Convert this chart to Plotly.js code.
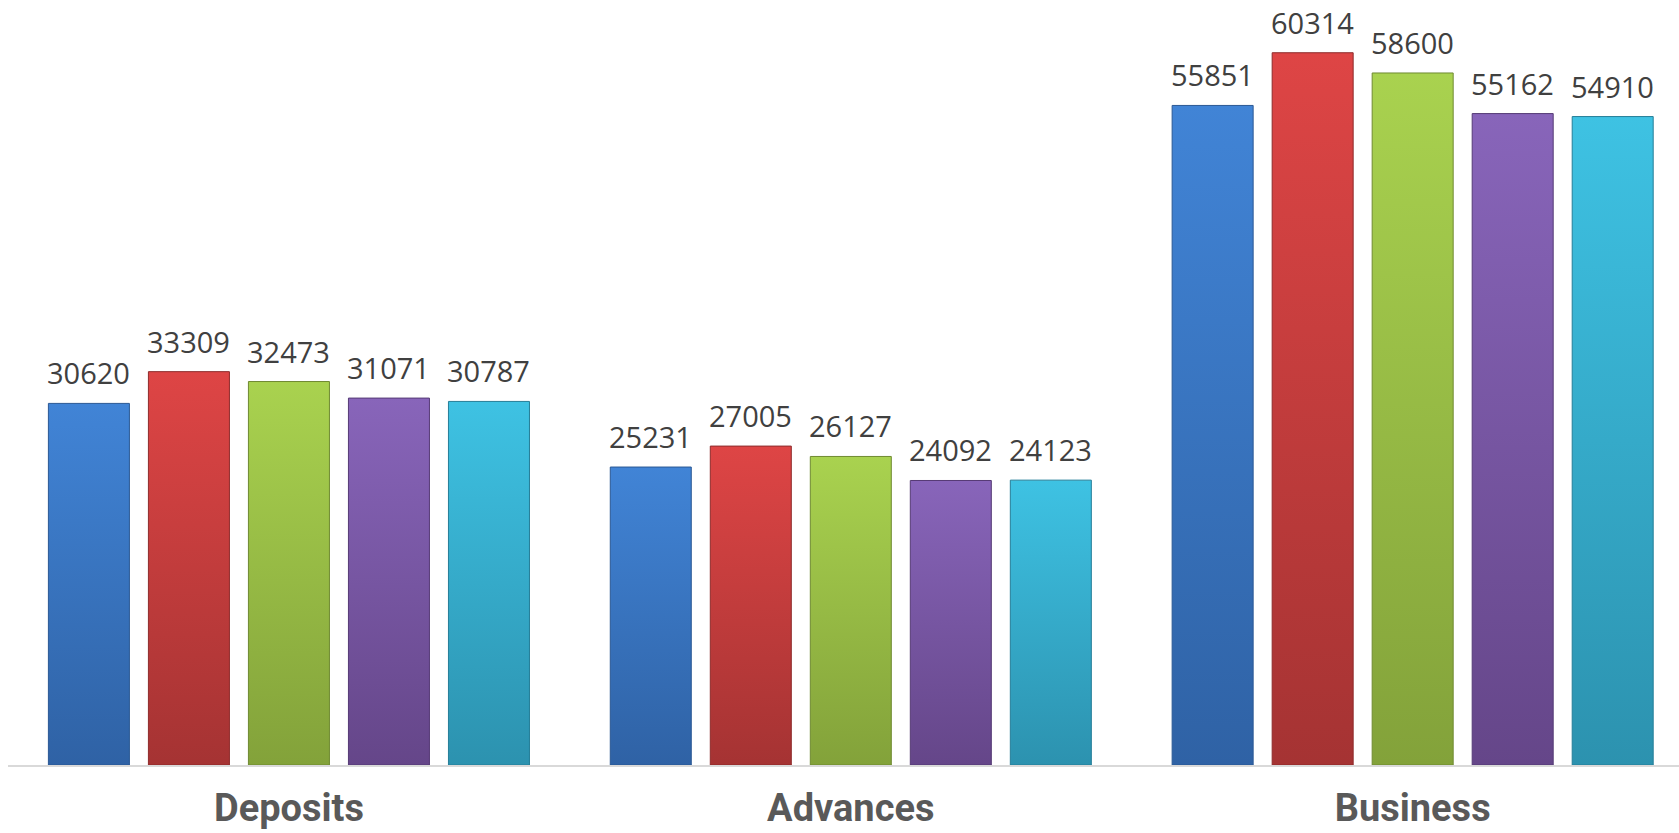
<!DOCTYPE html>
<html>
<head>
<meta charset="utf-8">
<script src="https://cdn.plot.ly/plotly-3.0.1.min.js"></script>
<style>
  html, body { margin: 0; padding: 0; background: #ffffff; }
  #chart { width: 1679px; height: 833px; }
</style>
</head>
<body>
<div id="chart"></div>
<script>
const categories = ['Deposits', 'Advances', 'Business'];
const series1 = [30620, 25231, 55851];
const series2 = [33309, 27005, 60314];
const series3 = [32473, 26127, 58600];
const series4 = [31071, 24092, 55162];
const series5 = [30787, 24123, 54910];
const seriesNames = ['Series 1', 'Series 2', 'Series 3', 'Series 4', 'Series 5'];
const seriesValues = [series1, series2, series3, series4, series5];

const baseColors = ['#3A74C0', '#CC3C3C', '#9BC145', '#7A58A8', '#36AFCE'];
const topColors = ['#4184D6', '#DE4545', '#A9D24F', '#8865BA', '#3EC2E3'];
const bottomColors = ['#2F62A5', '#A53333', '#83A23A', '#654689', '#2C92AF'];
const edgeColors = ['#2A5894', '#8E2B2B', '#6F8A31', '#553A75', '#257E98'];

const BARGAP = 0.11;
const BARGROUPGAP = 0.19;

const traces = seriesValues.map((vals, i) => ({
  type: 'bar',
  name: seriesNames[i],
  x: categories,
  y: vals,
  marker: { color: baseColors[i], line: { color: edgeColors[i], width: 1 } },
  hoverinfo: 'x+y'
}));

// value labels placed above each bar, at the bar's slot within its group
const nSeries = seriesValues.length;
const slot = (1 - BARGAP) / nSeries;
const annotations = [];
seriesValues.forEach((vals, i) => {
  vals.forEach((v, c) => {
    annotations.push({
      xref: 'x', yref: 'y',
      x: c + (i - (nSeries - 1) / 2) * slot,
      y: v,
      text: String(v),
      showarrow: false,
      xanchor: 'center',
      yanchor: 'bottom',
      yshift: 9,
      font: { family: 'Open Sans', size: 29, color: '#404040' }
    });
  });
});

const layout = {
  width: 1679,
  height: 833,
  margin: { l: 8, r: 0, t: 0, b: 68 },
  paper_bgcolor: '#ffffff',
  plot_bgcolor: '#ffffff',
  showlegend: false,
  barmode: 'group',
  bargap: BARGAP,
  bargroupgap: BARGROUPGAP,
  annotations: annotations,
  xaxis: {
    type: 'category',
    range: [-0.5, 2.474],
    showgrid: false,
    zeroline: false,
    showline: true,
    linecolor: '#D9D9D9',
    linewidth: 2,
    ticks: '',
    tickfont: { family: 'Roboto', size: 38, color: '#595959', weight: 'bold' },
    ticklabelstandoff: 8,
    fixedrange: true
  },
  yaxis: {
    range: [0, 64780],
    visible: false,
    showgrid: false,
    zeroline: false,
    fixedrange: true
  }
};

Plotly.newPlot('chart', traces, layout, { displayModeBar: false, staticPlot: true }).then(() => {
  const svg = document.querySelector('#chart .main-svg');
  const ns = 'http://www.w3.org/2000/svg';
  let defs = svg.querySelector('defs');
  if (!defs) { defs = document.createElementNS(ns, 'defs'); svg.insertBefore(defs, svg.firstChild); }
  seriesValues.forEach((_, i) => {
    const g = document.createElementNS(ns, 'linearGradient');
    g.setAttribute('id', 'barGrad' + i);
    g.setAttribute('x1', '0'); g.setAttribute('y1', '0');
    g.setAttribute('x2', '0'); g.setAttribute('y2', '1');
    [[0, topColors[i]], [1, bottomColors[i]]].forEach(([o, c]) => {
      const st = document.createElementNS(ns, 'stop');
      st.setAttribute('offset', String(o));
      st.setAttribute('stop-color', c);
      g.appendChild(st);
    });
    defs.appendChild(g);
  });
  const traceGroups = document.querySelectorAll('#chart .barlayer .trace.bars');
  traceGroups.forEach((tg, i) => {
    tg.querySelectorAll('.point path').forEach(p => {
      p.style.fill = 'url(#barGrad' + i + ')';
    });
  });
});
</script>
</body>
</html>
